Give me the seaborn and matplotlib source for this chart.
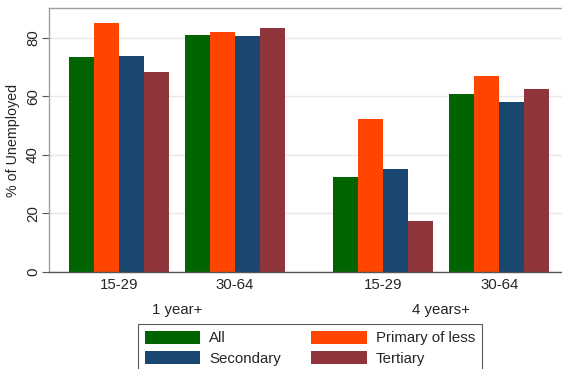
import matplotlib
matplotlib.use("Agg")
import matplotlib.pyplot as plt
import seaborn as sns
import pandas as pd

# ---- data ----
durations = ["1 year+", "1 year+", "4 years+", "4 years+"]
age_groups = ["15-29", "30-64", "15-29", "30-64"]
education = ["All", "Primary of less", "Secondary", "Tertiary"]
all_vals = [73.3, 80.8, 32.5, 60.8]
primary_vals = [85.0, 81.8, 52.1, 66.8]
secondary_vals = [73.6, 80.4, 35.3, 57.9]
tertiary_vals = [68.2, 83.2, 17.5, 62.4]
y_ticks = [0, 20, 40, 60, 80]

# ---- layout (positions of groups on the axis) ----
group_pos = [0.0, 1.0, 2.28, 3.28]
colors = ["#006400", "#FF4500", "#1A476F", "#90353B"]

series = [all_vals, primary_vals, secondary_vals, tertiary_vals]
rows = []
for edu, vals in zip(education, series):
    for p, v in zip(group_pos, vals):
        rows.append({"pos": p, "value": v, "edu": edu})
df = pd.DataFrame(rows)

sns.set_style("white")
plt.rcParams["font.family"] = ["Liberation Sans", "DejaVu Sans"]

FS = 10.8
fig = plt.figure(figsize=(5.62, 3.69), dpi=100)
ax = fig.add_axes([49 / 562, 1 - 272 / 369, 1 - 49 / 562, (272 - 8) / 369])

sns.barplot(data=df, x="pos", y="value", hue="edu", hue_order=education,
            palette=colors, native_scale=True, width=0.86, gap=0,
            errorbar=None, linewidth=0, saturation=1, ax=ax)

handles, labels = ax.get_legend_handles_labels()
if ax.get_legend() is not None:
    ax.get_legend().remove()

ax.set_ylim(0, 90.1)
ax.set_xlim(-0.604, 3.822)
ax.set_yticks(y_ticks)
ax.set_yticklabels([str(t) for t in y_ticks], rotation=90, va="center", fontsize=FS)
ax.set_xticks(group_pos)
ax.set_xticklabels(age_groups, fontsize=FS)
ax.tick_params(axis="x", length=0, pad=4)
ax.tick_params(axis="y", length=5, width=0.8, color="#555555", pad=1.5, left=True)
ax.set_xlabel("")
ax.set_ylabel("% of Unemployed", fontsize=10.3, labelpad=4)

ax.yaxis.grid(True, color="#E8E8E8", linewidth=1)
ax.set_axisbelow(True)
ax.spines["right"].set_visible(False)
ax.spines["top"].set_color("#A0A0A0")
ax.spines["left"].set_color("#A0A0A0")
ax.spines["bottom"].set_color("#555555")
for s in ["top", "left", "bottom"]:
    ax.spines[s].set_linewidth(1.0)

# group (duration) labels
for i in range(0, len(group_pos), 2):
    xc = (group_pos[i] + group_pos[i + 1]) / 2
    ax.text(xc, -13.0, durations[i], ha="center", va="center", fontsize=FS,
            transform=ax.transData, clip_on=False)

order = [0, 2, 1, 3]
leg = fig.legend([handles[i] for i in order], [labels[i] for i in order],
                 ncol=2, loc="upper left", bbox_to_anchor=(138 / 562, 1 - 324 / 369),
                 frameon=True, fancybox=False, edgecolor="#333333", fontsize=FS,
                 handlelength=3.7, handleheight=0.95, handletextpad=0.6,
                 columnspacing=2.0, labelspacing=0.4, borderpad=0.45,
                 borderaxespad=0)
leg.get_frame().set_linewidth(0.8)

fig.savefig("out.png", dpi=100)
